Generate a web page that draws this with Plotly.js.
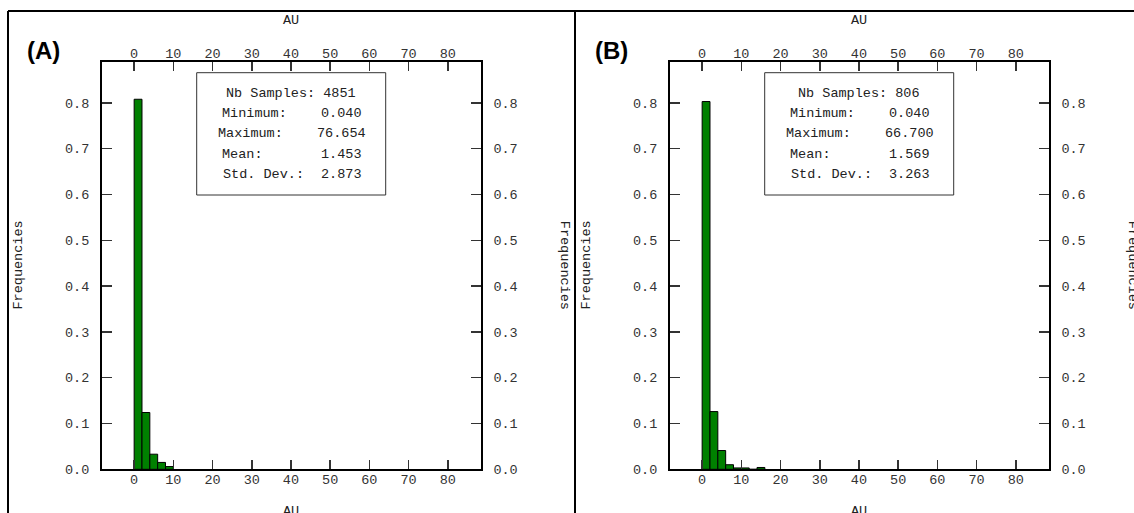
<!DOCTYPE html>
<html>
<head>
<meta charset="utf-8">
<script src="https://cdn.plot.ly/plotly-3.0.1.min.js"></script>
<style>html,body{margin:0;padding:0;background:#fff;}#chart{width:1134px;height:513px;}</style>
</head>
<body>
<div id="chart"></div>
<script>
// ---- data ----
var binWidth = 2;
var binLeftA = [0, 2, 4, 6, 8];
var freqA = [0.808, 0.124, 0.033, 0.015, 0.006];
var binLeftB = [0, 2, 4, 6, 8, 10, 12, 14];
var freqB = [0.803, 0.126, 0.041, 0.010, 0.003, 0.003, 0.0, 0.004];
var xTicks = [0, 10, 20, 30, 40, 50, 60, 70, 80];
var yTicks = [0.0, 0.1, 0.2, 0.3, 0.4, 0.5, 0.6, 0.7, 0.8];
var statLabels = ['Minimum:', 'Maximum:', 'Mean:', 'Std. Dev.:'];
var nbA = 4851;
var statsA = ['0.040', '76.654', '1.453', '2.873'];
var nbB = 806;
var statsB = ['0.040', '66.700', '1.569', '3.263'];
var panelLabels = ['(A)', '(B)'];
var xTitle = 'AU';
var yTitle = 'Frequencies';

// ---- layout helpers (pixel -> paper) ----
var W = 1134, H = 513;
function px(x) { return x / W; }
function py(y) { return 1 - y / H; }

var MONO = 'Liberation Mono, Courier New, monospace';
var tickFont = {family: MONO, size: 13.5, color: '#333'};
var xRange = [-8.2, 88.4];
var yRange = [0, 0.89];

function xAxis(domain, anchor, side, overlay) {
  var a = {
    domain: domain, anchor: anchor, side: side, range: xRange,
    tickmode: 'array', tickvals: xTicks, ticktext: xTicks.map(String),
    ticks: 'inside', ticklen: 9, tickwidth: 1.5, tickcolor: '#333',
    showline: true, linewidth: 2, linecolor: '#000',
    showgrid: false, zeroline: false, tickfont: tickFont, fixedrange: true,
    ticklabelstandoff: -4
  };
  if (overlay) a.overlaying = overlay;
  return a;
}
function yAxis(domain, anchor, side, overlay) {
  var a = {
    domain: domain, anchor: anchor, side: side, range: yRange,
    tickmode: 'array', tickvals: yTicks, ticktext: yTicks.map(function(v){return v.toFixed(1);}),
    ticks: 'inside', ticklen: 10, tickwidth: 1.5, tickcolor: '#333',
    showline: true, linewidth: 2, linecolor: '#000',
    showgrid: false, zeroline: false, tickfont: tickFont, fixedrange: true,
    ticklabelstandoff: 8
  };
  if (overlay) a.overlaying = overlay;
  return a;
}

var plotTop = 61.7, plotBot = 469.3, plotW = 378.7;
var leftA = 102, leftB = 670;
var yDom = [py(plotBot), py(plotTop)];
var xDomA = [px(leftA), px(leftA + plotW)];
var xDomB = [px(leftB), px(leftB + plotW)];

var barStyle = {color: '#008000', line: {color: '#000', width: 1}};
function ghost(x, y, xa, ya) {
  return {type: 'scatter', mode: 'markers', x: x, y: y, xaxis: xa, yaxis: ya,
    marker: {opacity: 0, size: 1}, hoverinfo: 'skip', showlegend: false};
}
var traces = [
  {type: 'bar', x: binLeftA, y: freqA, width: binWidth, offset: 0, marker: barStyle, xaxis: 'x', yaxis: 'y', hoverinfo: 'skip'},
  {type: 'bar', x: binLeftB, y: freqB, width: binWidth, offset: 0, marker: barStyle, xaxis: 'x2', yaxis: 'y2', hoverinfo: 'skip'},
  // invisible companions so the top and right axes get drawn
  ghost(binLeftA, freqA, 'x3', 'y'),
  ghost(binLeftA, freqA, 'x', 'y3'),
  ghost(binLeftB, freqB, 'x4', 'y2'),
  ghost(binLeftB, freqB, 'x2', 'y4')
];

var annotations = [];
var shapes = [];
var textFont = {family: MONO, size: 13.5, color: '#222'};

function addPanel(left, label, nb, stats) {
  var right = left + plotW;
  var cx = (left + right) / 2;
  var cy = (plotTop + plotBot) / 2;
  // axis titles
  annotations.push({xref: 'paper', yref: 'paper', x: px(cx), y: py(20), text: xTitle, showarrow: false, font: textFont, xanchor: 'center', yanchor: 'middle'});
  annotations.push({xref: 'paper', yref: 'paper', x: px(cx), y: py(511.5), text: xTitle, showarrow: false, font: textFont, xanchor: 'center', yanchor: 'middle'});
  annotations.push({xref: 'paper', yref: 'paper', x: px(left - 84), y: py(cy), text: yTitle, textangle: -90, showarrow: false, font: textFont, xanchor: 'center', yanchor: 'middle'});
  annotations.push({xref: 'paper', yref: 'paper', x: px(right + 84), y: py(cy), text: yTitle, textangle: 90, showarrow: false, font: textFont, xanchor: 'center', yanchor: 'middle'});
  // panel label
  annotations.push({xref: 'paper', yref: 'paper', x: px(left - 77), y: py(51), text: '<b>' + label + '</b>', showarrow: false,
    font: {family: 'Liberation Sans, Arial, sans-serif', size: 24, color: '#000'}, xanchor: 'left', yanchor: 'middle'});
  // stats box
  var bl = left + 94.7, bt = 72.7, bw = 189, bh = 122.3;
  shapes.push({type: 'rect', xref: 'paper', yref: 'paper', x0: px(bl), x1: px(bl + bw), y0: py(bt), y1: py(bt + bh),
    line: {color: '#333', width: 1}, fillcolor: '#fff', layer: 'above'});
  annotations.push({xref: 'paper', yref: 'paper', x: px(bl + bw / 2), y: py(bt + 20.6), text: 'Nb Samples: ' + nb,
    showarrow: false, font: textFont, xanchor: 'center', yanchor: 'middle'});
  var rowOff = [40.6, 60.6, 81.6, 101.6];
  var labOff = [23.3, 19.3, 23.3, 24.3];
  for (var i = 0; i < statLabels.length; i++) {
    annotations.push({xref: 'paper', yref: 'paper', x: px(bl + labOff[i]), y: py(bt + rowOff[i]), text: statLabels[i],
      showarrow: false, font: textFont, xanchor: 'left', yanchor: 'middle'});
    annotations.push({xref: 'paper', yref: 'paper', x: px(bl + 144.8), y: py(bt + rowOff[i]), text: stats[i],
      showarrow: false, font: textFont, xanchor: 'center', yanchor: 'middle'});
  }
}
addPanel(leftA, panelLabels[0], nbA, statsA);
addPanel(leftB, panelLabels[1], nbB, statsB);

// outer panel frames
shapes.push({type: 'line', xref: 'paper', yref: 'paper', x0: px(8), x1: 1, y0: py(11), y1: py(11), line: {color: '#000', width: 2}});
shapes.push({type: 'line', xref: 'paper', yref: 'paper', x0: px(8), x1: px(8), y0: py(11), y1: 0, line: {color: '#000', width: 2}});
shapes.push({type: 'line', xref: 'paper', yref: 'paper', x0: px(575), x1: px(575), y0: py(11), y1: 0, line: {color: '#000', width: 2}});

var layout = {
  width: W, height: H,
  margin: {l: 0, r: 0, t: 0, b: 0},
  paper_bgcolor: '#fff', plot_bgcolor: '#fff',
  showlegend: false,
  bargap: 0,
  xaxis: xAxis(xDomA, 'y', 'bottom'),
  yaxis: yAxis(yDom, 'x', 'left'),
  xaxis2: xAxis(xDomB, 'y2', 'bottom'),
  yaxis2: yAxis(yDom, 'x2', 'left'),
  xaxis3: xAxis(xDomA, 'y', 'top', 'x'),
  yaxis3: yAxis(yDom, 'x', 'right', 'y'),
  xaxis4: xAxis(xDomB, 'y2', 'top', 'x2'),
  yaxis4: yAxis(yDom, 'x2', 'right', 'y2'),
  annotations: annotations,
  shapes: shapes
};

Plotly.newPlot('chart', traces, layout, {staticPlot: true, displayModeBar: false});
</script>
</body>
</html>
